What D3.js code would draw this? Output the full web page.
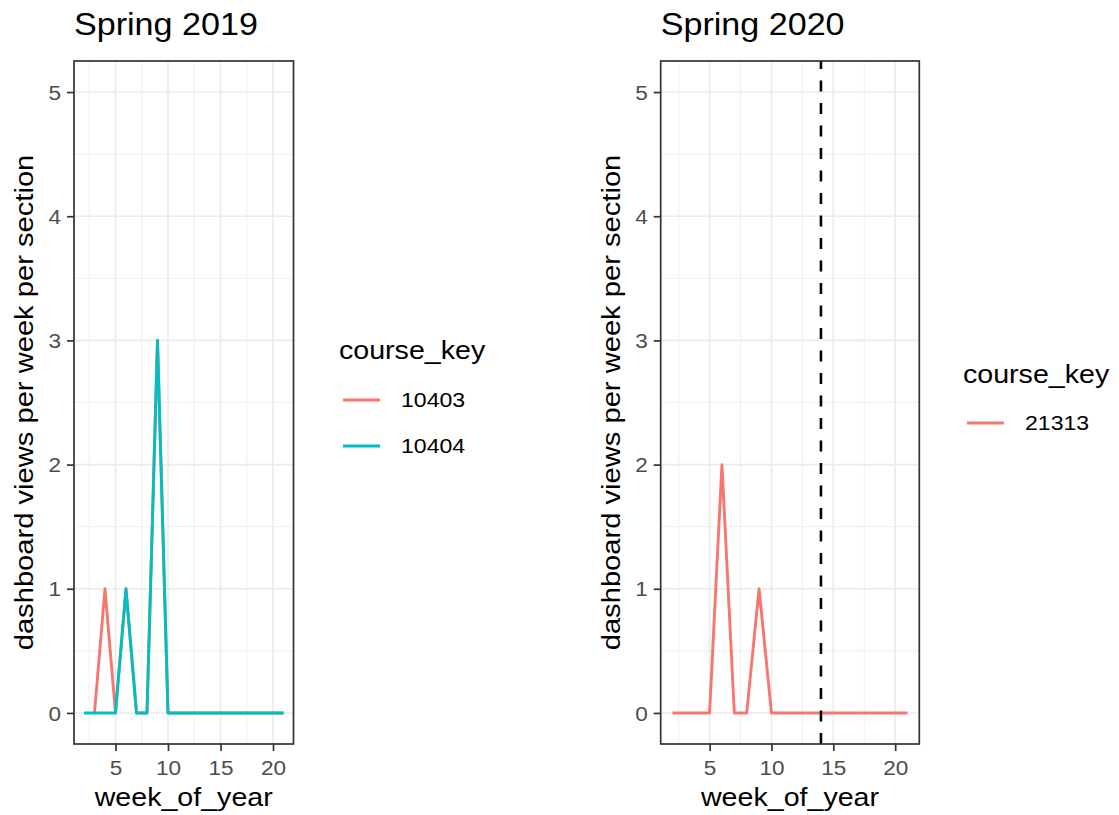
<!DOCTYPE html>
<html>
<head>
<meta charset="utf-8">
<script src="https://cdn.jsdelivr.net/npm/d3@7"></script>
<style>
  body { margin: 0; background: #fff; }
  svg text { font-family: "Liberation Sans", Arial, Helvetica, sans-serif; }
</style>
</head>
<body>
<div id="chart"></div>
<script>
// weekly dashboard views per section
const weeks10403 = [3, 4, 5, 6, 7, 8, 9, 10, 11, 12, 13, 14, 15, 16, 17, 18, 19, 20, 21];
const views10403 = [0, 1, 0, 1, 0, 0, 3, 0, 0, 0, 0, 0, 0, 0, 0, 0, 0, 0, 0];
const weeks10404 = [2, 3, 4, 5, 6, 7, 8, 9, 10, 11, 12, 13, 14, 15, 16, 17, 18, 19, 20, 21];
const views10404 = [0, 0, 0, 0, 1, 0, 0, 3, 0, 0, 0, 0, 0, 0, 0, 0, 0, 0, 0, 0];
const weeks21313 = [2, 3, 4, 5, 6, 7, 8, 9, 10, 11, 12, 13, 14, 15, 16, 17, 18, 19, 20, 21];
const views21313 = [0, 0, 0, 0, 2, 0, 0, 1, 0, 0, 0, 0, 0, 0, 0, 0, 0, 0, 0, 0];
const cutoffWeek2020 = 14;

const xTicks = [5, 10, 15, 20];
const xMinor = [2.5, 7.5, 12.5, 17.5];
const yTicks = [0, 1, 2, 3, 4, 5];
const yMinor = [0.5, 1.5, 2.5, 3.5, 4.5];
const xDomain = [1.05, 21.95];   // 2..21 with ggplot's 5% padding
const yDomain = [-0.25, 5.25];

const colors = { red: "#F8766D", teal: "#00BFC4" };
const SX = 1.1; // text in the reference is a bit wider than plain Arial

const panels = [
    {
        title: "Spring 2019",
        left: 74, right: 293.5,
        series: [
            { key: "10403", weeks: weeks10403, views: views10403, color: colors.red },
            { key: "10404", weeks: weeks10404, views: views10404, color: colors.teal }
        ],
        vline: null,
        legend: { x: 339, titleY: 359, firstY: 400 }
    },
    {
        title: "Spring 2020",
        left: 660.7, right: 919.3,
        series: [
            { key: "21313", weeks: weeks21313, views: views21313, color: colors.red }
        ],
        vline: cutoffWeek2020,
        legend: { x: 963, titleY: 383, firstY: 423 }
    }
];

const panelTop = 61, panelBottom = 744;

const svg = d3.select("#chart").append("svg")
    .attr("width", 1119)
    .attr("height", 815);

function stretch(sel) {
    sel.each(function() {
        const t = d3.select(this);
        const x = +t.attr("x") || 0;
        const y = +t.attr("y") || 0;
        t.attr("transform", `translate(${x},${y}) scale(${SX},1) translate(${-x},${-y})`);
    });
}

panels.forEach(p => {
    const x = d3.scaleLinear().domain(xDomain).range([p.left, p.right]);
    const y = d3.scaleLinear().domain(yDomain).range([panelBottom, panelTop]);
    const g = svg.append("g");

    // grid
    const grid = g.append("g");
    grid.selectAll(".ymin").data(yMinor).join("line")
        .attr("x1", p.left).attr("x2", p.right)
        .attr("y1", d => y(d)).attr("y2", d => y(d))
        .attr("stroke", "#EBEBEB").attr("stroke-width", 0.8);
    grid.selectAll(".xmin").data(xMinor).join("line")
        .attr("y1", panelTop).attr("y2", panelBottom)
        .attr("x1", d => x(d)).attr("x2", d => x(d))
        .attr("stroke", "#EBEBEB").attr("stroke-width", 0.8);
    grid.selectAll(".ymaj").data(yTicks).join("line")
        .attr("x1", p.left).attr("x2", p.right)
        .attr("y1", d => y(d)).attr("y2", d => y(d))
        .attr("stroke", "#EBEBEB").attr("stroke-width", 1.6);
    grid.selectAll(".xmaj").data(xTicks).join("line")
        .attr("y1", panelTop).attr("y2", panelBottom)
        .attr("x1", d => x(d)).attr("x2", d => x(d))
        .attr("stroke", "#EBEBEB").attr("stroke-width", 1.6);

    // series
    const line = d3.line().x(d => x(d[0])).y(d => y(d[1]));
    p.series.forEach(s => {
        g.append("path")
            .datum(s.weeks.map((w, i) => [w, s.views[i]]))
            .attr("d", line)
            .attr("fill", "none")
            .attr("stroke", s.color)
            .attr("stroke-width", 2.9)
            .attr("stroke-linejoin", "round");
    });

    if (p.vline != null) {
        g.append("line")
            .attr("x1", x(p.vline)).attr("x2", x(p.vline))
            .attr("y1", panelBottom).attr("y2", panelTop)
            .attr("stroke", "#000")
            .attr("stroke-width", 2.6)
            .attr("stroke-dasharray", "11,11.5");
    }

    // panel border
    g.append("rect")
        .attr("x", p.left).attr("y", panelTop)
        .attr("width", p.right - p.left).attr("height", panelBottom - panelTop)
        .attr("fill", "none").attr("stroke", "#333").attr("stroke-width", 1.7);

    // axes
    const xAxis = g.append("g")
        .attr("transform", `translate(0,${panelBottom})`)
        .call(d3.axisBottom(x).tickValues(xTicks).tickSize(7).tickPadding(3));
    const yAxis = g.append("g")
        .attr("transform", `translate(${p.left},0)`)
        .call(d3.axisLeft(y).tickValues(yTicks).tickFormat(d3.format("d")).tickSize(7).tickPadding(6));
    [xAxis, yAxis].forEach(a => {
        a.select(".domain").remove();
        a.selectAll(".tick line").attr("stroke", "#333").attr("stroke-width", 1.7);
        a.selectAll(".tick text")
            .attr("fill", "#4D4D4D")
            .style("font-size", "20.5px")
            .style("font-family", "'Liberation Sans', Arial, sans-serif");
    });
    xAxis.selectAll(".tick text").attr("y", 31).attr("dy", null);
    yAxis.selectAll(".tick text").attr("dy", "0.35em");
    stretch(xAxis.selectAll(".tick text"));
    stretch(yAxis.selectAll(".tick text"));

    // titles
    g.append("text")
        .attr("x", p.left).attr("y", 35)
        .style("font-size", "31px")
        .attr("fill", "#000")
        .text(p.title)
        .call(stretch);

    g.append("text")
        .attr("x", (p.left + p.right) / 2).attr("y", 806)
        .attr("text-anchor", "middle")
        .style("font-size", "26px")
        .text("week_of_year")
        .call(stretch);

    g.append("text")
        .attr("text-anchor", "middle")
        .attr("transform", `translate(${p.left - 41},${(panelTop + panelBottom) / 2}) rotate(-90) scale(${SX},1)`)
        .style("font-size", "26.5px")
        .text("dashboard views per week per section");

    // legend
    const lg = svg.append("g");
    lg.append("text")
        .attr("x", p.legend.x).attr("y", p.legend.titleY)
        .style("font-size", "26px")
        .text("course_key")
        .call(stretch);
    p.series.forEach((s, i) => {
        const cy = p.legend.firstY + i * 46;
        lg.append("line")
            .attr("x1", p.legend.x + 4).attr("x2", p.legend.x + 41)
            .attr("y1", cy).attr("y2", cy)
            .attr("stroke", s.color).attr("stroke-width", 2.9);
        lg.append("text")
            .attr("x", p.legend.x + 62).attr("y", cy + 7.5)
            .style("font-size", "21px")
            .text(s.key)
            .call(stretch);
    });
});
</script>
</body>
</html>
